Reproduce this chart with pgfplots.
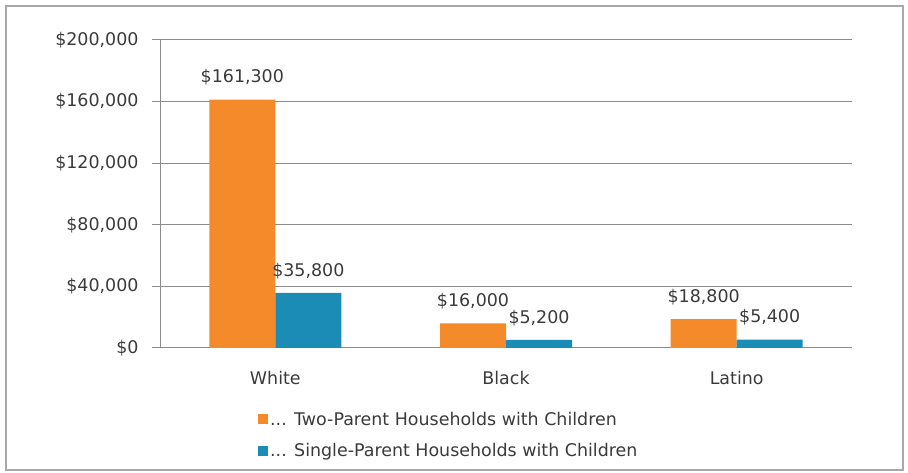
\documentclass[border=0pt]{standalone}
\usepackage{pgfplots}
\pgfplotsset{compat=1.18}
\usepackage{fontspec}
\setmainfont{DejaVu Sans}
\definecolor{orng}{HTML}{F58A2A}
\definecolor{tealb}{HTML}{1B8CB5}
\definecolor{gridc}{HTML}{8C8C8C}
\definecolor{txt}{HTML}{3A3A3A}
\definecolor{frame}{HTML}{A8A8A8}
\newcommand\fnt{\fontsize{17.5}{20}\selectfont}
\begin{document}
\begin{tikzpicture}[x=1bp,y=1bp]
\path (0,0) rectangle (908,473);
\draw[frame, line width=1.2bp] (6,3) rectangle (903,467);
\begin{axis}[
  at={(160bp,125bp)}, anchor=south west,
  scale only axis, width=692bp, height=308bp,
  ybar=0pt, bar width=66bp,
  xmin=-0.5, xmax=2.5, ymin=0, ymax=200000,
  scaled y ticks=false,
  axis x line*=bottom, axis y line*=left,
  axis line style={gridc, line width=1bp},
  tick align=outside,
  xtick={0,1,2}, xticklabels={White,Black,Latino},
  major x tick style={draw=none},
  extra x ticks={-0.5,0.5,1.5,2.5}, extra x tick labels={},
  extra x tick style={major tick length=6bp, tick style={draw=gridc, line width=1bp}},
  ytick={0,40000,80000,120000,160000,200000},
  yticklabels={{\$0},{\$40,000},{\$80,000},{\$120,000},{\$160,000},{\$200,000}},
  major y tick style={draw=gridc, line width=1bp},
  major tick length=8bp,
  ymajorgrids, grid style={gridc, line width=1bp},
  tick label style={font=\fnt, text=txt},
  xticklabel style={yshift=-12bp},
  yticklabel style={xshift=-10bp},
  nodes near coords,
  point meta=explicit symbolic,
  every node near coord/.append style={font=\fnt, text=txt, anchor=south, inner sep=0pt, yshift=14bp},
  legend style={at={(0.1416,-0.20)}, anchor=north west, draw=none, fill=none,
    font=\fnt, text=txt, row sep=13bp, inner sep=0pt,
    /tikz/every even column/.append style={column sep=6bp}},
  legend cell align=left,
  legend image code/.code={\fill[#1,draw=none] (0bp,-5bp) rectangle (10bp,5bp);},
]
\addplot[fill=orng, draw=none] coordinates {(0,161300) [{\$161,300}] (1,16000) [{\$16,000}] (2,18800) [{\$18,800}]};
\addlegendentry{{.}{.}{.} Two-Parent Households with Children}
\addplot[fill=tealb, draw=none] coordinates {(0,35800) [{\$35,800}] (1,5200) [{\$5,200}] (2,5400) [{\$5,400}]};
\addlegendentry{{.}{.}{.} Single-Parent Households with Children}
\end{axis}
\end{tikzpicture}
\end{document}
